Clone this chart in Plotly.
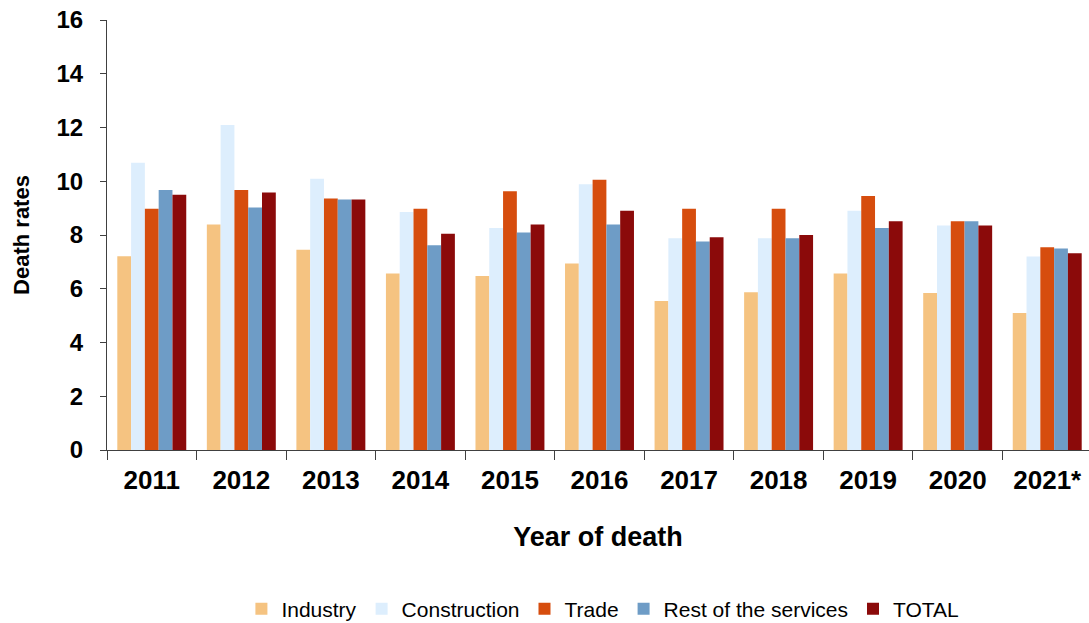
import plotly.graph_objects as go

years = ["2011", "2012", "2013", "2014", "2015", "2016", "2017", "2018", "2019", "2020", "2021*"]
industry = [7.21, 8.39, 7.45, 6.57, 6.47, 6.94, 5.54, 5.87, 6.57, 5.84, 5.10]
construction = [10.69, 12.09, 10.09, 8.86, 8.26, 9.89, 7.88, 7.88, 8.90, 8.35, 7.20]
trade = [8.98, 9.67, 9.36, 8.98, 9.63, 10.06, 8.98, 8.98, 9.45, 8.51, 7.54]
rest_services = [9.67, 9.02, 9.32, 7.62, 8.09, 8.39, 7.76, 7.88, 8.26, 8.51, 7.50]
total = [9.50, 9.58, 9.32, 8.05, 8.39, 8.90, 7.92, 8.00, 8.51, 8.35, 7.32]

series = [
    ("Industry", industry, "#F5C381"),
    ("Construction", construction, "#DDEEFD"),
    ("Trade", trade, "#D64D0E"),
    ("Rest of the services", rest_services, "#6E9CC6"),
    ("TOTAL", total, "#8B0A0A"),
]

fig = go.Figure()
for name, vals, col in series:
    fig.add_trace(go.Bar(x=years, y=vals, name=name, marker=dict(color=col, line=dict(width=0))))

font_family = "Liberation Sans, Arial, sans-serif"
fig.update_layout(
    width=1089, height=623,
    paper_bgcolor="white", plot_bgcolor="white",
    barmode="group", bargap=0.23, bargroupgap=0,
    margin=dict(l=107, r=0, t=20, b=173, autoexpand=False),
    font=dict(family=font_family, color="black"),
    showlegend=True,
    legend=dict(orientation="h", x=0.505, xanchor="center", y=-0.37, yanchor="middle",
                font=dict(size=21, family=font_family), itemwidth=30, traceorder="normal"),
    xaxis=dict(
        type="category", range=[-0.5, 10.4665],
        showline=True, linecolor="#404040", linewidth=1.2,
        ticks="outside", tickson="boundaries", ticklen=9, tickcolor="#404040",
        tickfont=dict(size=26, family=font_family, weight="bold"), ticklabelstandoff=7,
        ticklabeloverflow="allow",
        title=dict(text="<b>Year of death</b>", font=dict(size=27, family=font_family), standoff=32),
        showgrid=False, automargin=False,
    ),
    yaxis=dict(
        range=[0, 16], dtick=2, showline=True, linecolor="#404040", linewidth=1.2,
        ticks="outside", ticklen=6, tickcolor="#404040", showgrid=False, zeroline=False,
        tickfont=dict(size=24, family=font_family, weight="bold"), ticklabelstandoff=12,
        ticklabeloverflow="allow",
        title=dict(text="<b>Death rates</b>", font=dict(size=22, family=font_family), standoff=20),
        automargin=False,
    ),
)

fig.write_html("out.html", config={"displayModeBar": False},
               post_script="document.body.style.margin='0';document.body.style.overflow='hidden';")
